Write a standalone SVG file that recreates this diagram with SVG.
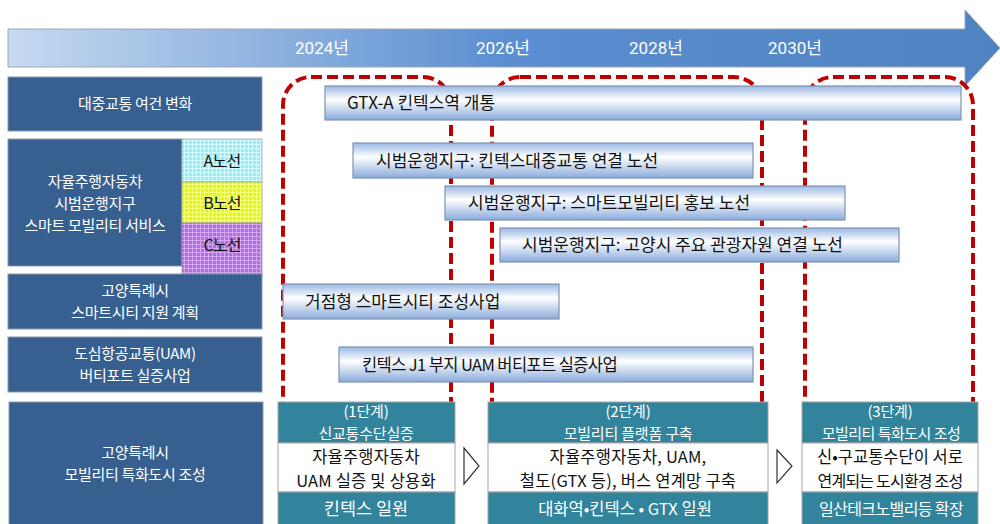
<svg xmlns="http://www.w3.org/2000/svg" width="1000" height="524" viewBox="0 0 1000 524">
<defs>
<linearGradient id="arrowGrad" x1="0" y1="0" x2="1" y2="0">
<stop offset="0" stop-color="#c6d9f0"/>
<stop offset="0.5" stop-color="#5b8fd1"/>
<stop offset="1" stop-color="#4f82c0"/>
</linearGradient>
<linearGradient id="barGrad" x1="0" y1="0" x2="0" y2="1">
<stop offset="0" stop-color="#9ab8e3"/>
<stop offset="0.4" stop-color="#ffffff"/>
<stop offset="1" stop-color="#8aabdc"/>
</linearGradient>
<pattern id="patA" width="4" height="4" patternUnits="userSpaceOnUse">
<rect width="4" height="4" fill="#8ff0f7"/>
<path d="M0 0.5H4M0.5 0V4" stroke="#d5fbff" stroke-width="1"/>
</pattern>
<pattern id="patB" width="4" height="4" patternUnits="userSpaceOnUse">
<rect width="4" height="4" fill="#e4fa00"/>
<path d="M0 0.5H4M0.5 0V4" stroke="#f6ff7a" stroke-width="1"/>
</pattern>
<pattern id="patC" width="4" height="4" patternUnits="userSpaceOnUse">
<rect width="4" height="4" fill="#b36be0"/>
<path d="M0 0.5H4M0.5 0V4" stroke="#d4a6ef" stroke-width="1"/>
</pattern>
<style>
.lbox{fill:#375f8f;stroke:#8a9bb0;stroke-width:1}
.ltxt{font-family:"Noto Sans CJK KR","Noto Sans",sans-serif;font-size:15px;fill:#ffffff;text-anchor:middle;letter-spacing:-0.3px}
.year{font-family:Roboto,"Noto Sans CJK KR",sans-serif;font-size:17px;fill:#ffffff;text-anchor:middle}
.bar{fill:url(#barGrad);stroke:#7f93b0;stroke-width:1.2}
.btxt{font-family:"Noto Sans CJK KR","Noto Sans",sans-serif;font-size:17px;fill:#111111}
.dash{fill:none;stroke:#c00000;stroke-width:4;stroke-dasharray:11 5}
.teal{fill:#31849b;stroke:#a6a6a6;stroke-width:1}
.white{fill:#ffffff;stroke:#a6a6a6;stroke-width:1}
.sw{font-family:"Noto Sans CJK KR","Noto Sans",sans-serif;font-size:15px;fill:#ffffff;text-anchor:middle;letter-spacing:-0.2px}
.sb{font-family:"Noto Sans CJK KR","Noto Sans",sans-serif;font-size:16.5px;fill:#111111;text-anchor:middle;letter-spacing:0.2px}
.ctxt{font-family:"Noto Sans CJK KR","Noto Sans",sans-serif;font-size:16px;fill:#111111;text-anchor:middle;letter-spacing:-0.8px}
.tri{fill:#ffffff;stroke:#333333;stroke-width:1.2}
</style>
</defs>

<g id="timeline">
<path d="M8 29H965V10L1000 48L965 86V67H8Z" fill="url(#arrowGrad)" stroke="#a0a8b4" stroke-width="1"/>
<text class="year" x="322" y="54">2024년</text>
<text class="year" x="503" y="54">2026년</text>
<text class="year" x="656" y="54">2028년</text>
<text class="year" x="795" y="54">2030년</text>
</g>

<g id="phase-frames">
<rect class="dash" x="283" y="77" width="168" height="360" rx="28"/>
<rect class="dash" x="492" y="77" width="270" height="360" rx="28"/>
<rect class="dash" x="805" y="77" width="168" height="360" rx="28"/>
</g>

<g id="left-labels">
<g id="row1"><rect class="lbox" x="8" y="77" width="254" height="54"/><text class="ltxt" x="135" y="109">대중교통 여건 변화</text></g>
<g id="row2"><rect class="lbox" x="8" y="139" width="174" height="127"/>
<text class="ltxt" x="95" y="187">자율주행자동차</text>
<text class="ltxt" x="95" y="209">시범운행지구</text>
<text class="ltxt" x="95" y="231">스마트 모빌리티 서비스</text></g>
<g id="lineA"><rect x="182" y="139" width="80" height="43" fill="url(#patA)" stroke="#9aa" stroke-width="0.8"/><text class="ctxt" x="222" y="167">A노선</text></g>
<g id="lineB"><rect x="182" y="182" width="80" height="41" fill="url(#patB)" stroke="#9a9" stroke-width="0.8"/><text class="ctxt" x="222" y="209">B노선</text></g>
<g id="lineC"><rect x="182" y="223" width="80" height="52" fill="url(#patC)" stroke="#a8a" stroke-width="0.8"/><text class="ctxt" x="222" y="251">C노선</text></g>
<g id="row3"><rect class="lbox" x="8" y="274" width="254" height="55"/>
<text class="ltxt" x="135" y="296">고양특례시</text>
<text class="ltxt" x="135" y="318">스마트시티 지원 계획</text></g>
<g id="row4"><rect class="lbox" x="8" y="337" width="254" height="55"/>
<text class="ltxt" x="135" y="359">도심항공교통(UAM)</text>
<text class="ltxt" x="135" y="381">버티포트 실증사업</text></g>
<g id="row5"><rect class="lbox" x="9" y="402" width="254" height="130"/>
<text class="ltxt" x="135" y="458">고양특례시</text>
<text class="ltxt" x="135" y="480">모빌리티 특화도시 조성</text></g>
</g>

<g id="bars">
<g id="bar1"><rect class="bar" x="325" y="86" width="636" height="34"/><text class="btxt" x="347" y="109">GTX-A 킨텍스역 개통</text></g>
<g id="bar2"><rect class="bar" x="353" y="143" width="400" height="35"/><text class="btxt" x="376" y="167">시범운행지구: 킨텍스대중교통 연결 노선</text></g>
<g id="bar3"><rect class="bar" x="445" y="186" width="400" height="34"/><text class="btxt" x="468" y="209">시범운행지구: 스마트모빌리티 홍보 노선</text></g>
<g id="bar4"><rect class="bar" x="500" y="228" width="399" height="34"/><text class="btxt" x="522" y="251">시범운행지구: 고양시 주요 관광자원 연결 노선</text></g>
<g id="bar5"><rect class="bar" x="283" y="284" width="276" height="35"/><text class="btxt" x="305" y="308">거점형 스마트시티 조성사업</text></g>
<g id="bar6"><rect class="bar" x="339" y="347" width="414" height="35"/><text class="btxt" x="362" y="371" style="font-size:16.5px;letter-spacing:-0.6px">킨텍스 J1 부지 UAM 버티포트 실증사업</text></g>
</g>

<g id="stage1">
<rect class="teal" x="278" y="402" width="177" height="41"/>
<rect class="white" x="278" y="443" width="177" height="49"/>
<rect class="teal" x="278" y="492" width="177" height="40"/>
<text class="sw" x="366" y="417">(1단계)</text>
<text class="sw" x="366" y="439">신교통수단실증</text>
<text class="sb" x="366" y="463">자율주행자동차</text>
<text class="sb" x="366" y="487">UAM 실증 및 상용화</text>
<text class="sw" x="366" y="515" style="font-size:17.5px;letter-spacing:0">킨텍스 일원</text>
</g>
<g id="stage2">
<rect class="teal" x="488" y="402" width="280" height="41"/>
<rect class="white" x="488" y="443" width="280" height="49"/>
<rect class="teal" x="488" y="492" width="280" height="40"/>
<text class="sw" x="628" y="417">(2단계)</text>
<text class="sw" x="628" y="439">모빌리티 플랫폼 구축</text>
<text class="sb" x="628" y="463">자율주행자동차, UAM,</text>
<text class="sb" x="628" y="487">철도(GTX 등), 버스 연계망 구축</text>
<text class="sw" x="625" y="515" style="font-size:16.5px;letter-spacing:0">대화역•킨텍스 • GTX 일원</text>
</g>
<g id="stage3">
<rect class="teal" x="802" y="402" width="176" height="41"/>
<rect class="white" x="802" y="443" width="176" height="49"/>
<rect class="teal" x="802" y="492" width="176" height="40"/>
<text class="sw" x="890" y="417">(3단계)</text>
<text class="sw" x="891" y="439" style="letter-spacing:-0.5px">모빌리티 특화도시 조성</text>
<text class="sb" x="890" y="463" style="font-size:16.5px;letter-spacing:0">신•구교통수단이 서로</text>
<text class="sb" x="890" y="487" style="font-size:16px;letter-spacing:-0.8px">연계되는 도시환경 조성</text>
<text class="sw" x="891" y="515" style="font-size:16px;letter-spacing:-0.6px">일산테크노밸리등 확장</text>
</g>

<g id="connectors">
<path class="tri" d="M464 448L479 466L464 484Z"/>
<path class="tri" d="M777 450L792 466L777 483Z"/>
</g>
</svg>
